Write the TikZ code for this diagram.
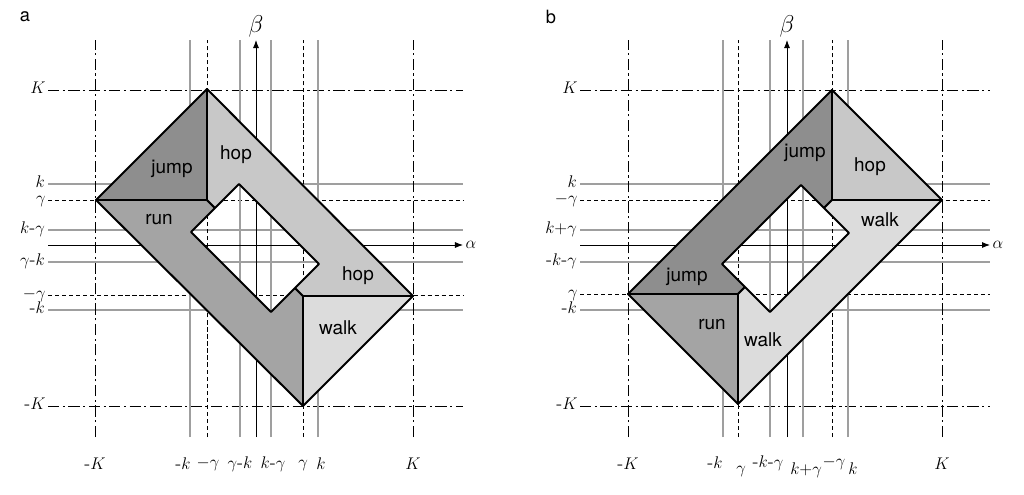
\documentclass[tikz,border=0pt]{standalone}
\usepackage{amsmath}
\usepackage{fontspec}
\setsansfont{TeX Gyre Heros}
\usetikzlibrary{arrows.meta}
\definecolor{jumpc}{HTML}{8E8E8E}
\definecolor{runc}{HTML}{A4A4A4}
\definecolor{hopc}{HTML}{C8C8C8}
\definecolor{walkc}{HTML}{DCDCDC}
\tikzset{
  kline/.style={draw=gray!75, line width=1.6pt},
  gline/.style={dash pattern=on 3pt off 2pt, line width=0.5pt},
  Kline/.style={dash pattern=on 8pt off 2.5pt on 1.5pt off 2.5pt, line width=0.5pt},
  axis/.style={-Latex, line width=0.6pt},
  region/.style={draw=black, line width=1.4pt, line join=round},
  lab/.style={font=\sffamily\fontsize{13.5}{16}\selectfont},
  side/.style={left, inner ysep=0pt, text height=1.3ex, text depth=0.1ex},
}
\begin{document}
\begin{tikzpicture}[x=0.025cm, y=-0.025cm, font=\fontsize{13}{15}\selectfont, inner sep=1.5pt]
                    \useasboundingbox (0,0) rectangle (1024,494);
                    \node (la) at (25,17) {\sffamily a};
                    \node (lb) at (551,17) {\sffamily b};

                    % panel a: grid lines
                    \foreach \y/\t in {184/k, 230/k\text{-}\gamma, 262/\gamma\text{-}k, 310/\text{-}k}
                        \draw[kline] (48,\y) node[side, black] (ha\y) {$\t$} -- (463,\y);
                    \foreach \y/\t in {200/\gamma, 295/-\gamma}
                        \draw[gline] (48,\y) node[side] (ha\y) {$\t$} -- (463,\y);
                    \foreach \y/\t in {90/K, 406/\text{-}K}
                        \draw[Kline] (48,\y) node[side] (ha\y) {$\t$} -- (463,\y);
                    \foreach \x in {190, 240, 271, 318}
                        \draw[kline] (\x,437) coordinate (va\x) -- (\x,40);
                    \foreach \x in {207, 303}
                        \draw[gline] (\x,437) coordinate (va\x) -- (\x,40);
                    \foreach \x in {95, 413}
                        \draw[Kline] (\x,437) coordinate (va\x) -- (\x,40);
                    \node (ta1) at (95,464) {$\text{-}K$};
                    \node (ta2) at (183,464) {$\text{-}k$};
                    \node (ta3) at (208,464) {$-\gamma$};
                    \node (ta4) at (240,464) {$\gamma\text{-}k$};
                    \node (ta5) at (273,464) {$k\text{-}\gamma$};
                    \node (ta6) at (303,465) {$\gamma$};
                    \node (ta7) at (321,464) {$k$};
                    \node (ta8) at (413,464) {$K$};
                    \draw[axis] (48,245) -- (463,245) node[right] (alphaa) {$\alpha$};
                    \draw[axis] (256,437) -- (256,40) node[above, font=\fontsize{16}{18}\selectfont] (betaa) {$\beta$};

                    % panel a: regions
                    \coordinate (aT) at (207,89);
                    \coordinate (aL) at (96,200);
                    \coordinate (aR) at (413,296);
                    \coordinate (aB) at (303,406);
                    \coordinate (aD1) at (207,200);
                    \coordinate (aD2) at (303,296);
                    \coordinate (aP1) at (215,208);
                    \coordinate (aP2) at (295,288);
                    \coordinate (aHT) at (239,184);
                    \coordinate (aHR) at (319,264);
                    \coordinate (aHB) at (271,312);
                    \coordinate (aHL) at (191,232);
                    \draw[region, fill=jumpc] (aT) -- (aL) -- (aD1) -- cycle;
                    \draw[region, fill=runc] (aL) -- (aD1) -- (aP1) -- (aHL) -- (aHB) -- (aP2) -- (aD2) -- (aB) -- cycle;
                    \draw[region, fill=hopc] (aT) -- (aR) -- (aD2) -- (aP2) -- (aHR) -- (aHT) -- (aP1) -- (aD1) -- cycle;
                    \draw[region, fill=walkc] (aD2) -- (aR) -- (aB) -- cycle;
                    \node[lab] (ajump) at (172,169) {jump};
                    \node[lab] (ahop1) at (236,155) {hop};
                    \node[lab] (arun) at (159,220) {run};
                    \node[lab] (ahop2) at (358,276) {hop};
                    \node[lab] (awalk) at (338,328) {walk};

                    % panel b: grid lines
                    \foreach \y/\t in {184/k, 230/k{+}\gamma, 262/\text{-}k\text{-}\gamma, 310/\text{-}k}
                        \draw[kline] (580,\y) node[side, black] (hb\y) {$\t$} -- (990,\y);
                    \foreach \y/\t in {200/-\gamma, 294/\gamma}
                        \draw[gline] (580,\y) node[side] (hb\y) {$\t$} -- (990,\y);
                    \foreach \y/\t in {90/K, 406/\text{-}K}
                        \draw[Kline] (580,\y) node[side] (hb\y) {$\t$} -- (990,\y);
                    \foreach \x in {723, 770, 803, 848}
                        \draw[kline] (\x,437) coordinate (vb\x) -- (\x,40);
                    \foreach \x in {738, 832}
                        \draw[gline] (\x,437) coordinate (vb\x) -- (\x,40);
                    \foreach \x in {628, 942}
                        \draw[Kline] (\x,437) coordinate (vb\x) -- (\x,40);
                    \node (tb1) at (628,464) {$\text{-}K$};
                    \node (tb2) at (715,463) {$\text{-}k$};
                    \node (tb3) at (741,471) {$\gamma$};
                    \node (tb4) at (768,463) {$\text{-}k\text{-}\gamma$};
                    \node (tb5) at (806,470) {$k{+}\gamma$};
                    \node (tb6) at (834,463) {$-\gamma$};
                    \node (tb7) at (853,469) {$k$};
                    \node (tb8) at (942,464) {$K$};
                    \draw[axis] (580,245) -- (990,245) node[right] (alphab) {$\alpha$};
                    \draw[axis] (787,437) -- (787,40) node[above, font=\fontsize{16}{18}\selectfont] (betab) {$\beta$};

                    % panel b: regions
                    \coordinate (bT) at (832,90);
                    \coordinate (bL) at (628,294);
                    \coordinate (bR) at (942,200);
                    \coordinate (bB) at (738,404);
                    \coordinate (bD1) at (832,200);
                    \coordinate (bD2) at (738,294);
                    \coordinate (bP1) at (824,208);
                    \coordinate (bP2) at (745,287);
                    \coordinate (bHT) at (801,185);
                    \coordinate (bHR) at (849,233);
                    \coordinate (bHB) at (770,312);
                    \coordinate (bHL) at (722,264);
                    \draw[region, fill=jumpc] (bT) -- (bD1) -- (bP1) -- (bHT) -- (bHL) -- (bP2) -- (bD2) -- (bL) -- cycle;
                    \draw[region, fill=hopc] (bT) -- (bR) -- (bD1) -- cycle;
                    \draw[region, fill=runc] (bL) -- (bD2) -- (bB) -- cycle;
                    \draw[region, fill=walkc] (bD1) -- (bR) -- (bB) -- (bD2) -- (bP2) -- (bHB) -- (bHR) -- (bP1) -- cycle;
                    \node[lab] (bjump1) at (805,153) {jump};
                    \node[lab] (bhop) at (870,167) {hop};
                    \node[lab] (bwalk1) at (880,220) {walk};
                    \node[lab] (bjump2) at (687,277) {jump};
                    \node[lab] (brun) at (712,325) {run};
                    \node[lab] (bwalk2) at (763,340) {walk};
                \end{tikzpicture}
\end{document}
